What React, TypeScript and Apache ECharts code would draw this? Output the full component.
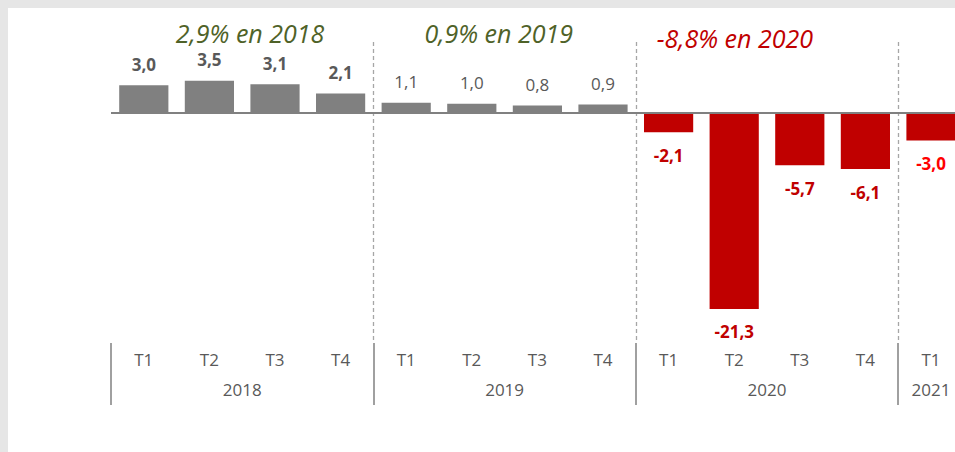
import React, { useEffect, useRef } from "react";
import * as echarts from "echarts";

const quarters = ["T1", "T2", "T3", "T4", "T1", "T2", "T3", "T4", "T1", "T2", "T3", "T4", "T1"];
const quarterYear = ["2018", "2018", "2018", "2018", "2019", "2019", "2019", "2019", "2020", "2020", "2020", "2020", "2021"];
const growth = [3.0, 3.5, 3.1, 2.1, 1.1, 1.0, 0.8, 0.9, -2.1, -21.3, -5.7, -6.1, -3.0];

const years = ["2018", "2019", "2020", "2021"];
const yearStartIndex = [0, 4, 8, 12];
const yearCenterIndex = [2, 6, 10, 12.5];

const annualTexts = ["2,9% en 2018", "0,9% en 2019", "-8,8% en 2020"];
const annualIsNegative = [false, false, true];
const annualAnchorX = [2.12, 5.91, 9.51];
const annualAnchorY = [8.65, 8.65, 8.1];

const FONT = "'Open Sans', 'DejaVu Sans', sans-serif";
const fmt = (v: number) => v.toFixed(1).replace(".", ",");

export default function App() {
  const ref = useRef<HTMLDivElement>(null);

  useEffect(() => {
    if (!ref.current) return;
    const chart = echarts.init(ref.current, null, { renderer: "svg" });

    const barData = growth.map((v, i) => {
      const neg = v < 0;
      const year = quarterYear[i];
      return {
        value: v,
        itemStyle: { color: neg ? "#c00000" : "#808080" },
        label: {
          show: true,
          position: neg ? "bottom" : "top",
          distance: neg ? 14 : 12,
          color: neg ? (year === "2021" ? "#ff0000" : "#c00000") : "#595959",
          fontWeight: year === "2019" ? "normal" : "bold",
          fontSize: 17,
          lineHeight: 18,
          fontFamily: FONT,
          formatter: () => fmt(v),
        },
      };
    });

    const annotData = annualTexts.map((t, i) => ({
      value: [annualAnchorX[i], annualAnchorY[i]],
      label: {
        show: true,
        position: "inside",
        formatter: t,
        color: annualIsNegative[i] ? "#c00000" : "#4f6228",
        opacity: 1,
        fontSize: 25,
        lineHeight: 24,
        fontStyle: "italic",
        fontFamily: FONT,
      },
    }));

    chart.setOption({
      animation: false,
      grid: { left: 111, top: 42, width: 13 * 65.6, bottom: 109, containLabel: false },
      xAxis: [
        {
          type: "category",
          data: quarters,
          position: "bottom",
          boundaryGap: true,
          axisLine: { show: false },
          axisTick: { show: false },
          axisLabel: {
            interval: 0,
            margin: 8,
            color: "#595959",
            fontSize: 17,
            fontFamily: FONT,
          },
          splitLine: {
            show: true,
            interval: (index: number) => index > 0 && yearStartIndex.includes(index),
            lineStyle: { color: "#a6a6a6", type: [4, 3], width: 1.3 },
          },
        },
        {
          type: "value",
          min: 0,
          max: 13,
          position: "bottom",
          axisLine: { show: false },
          splitLine: { show: false },
          axisTick: {
            show: true,
            customValues: yearStartIndex,
            length: 62,
            inside: false,
            lineStyle: { color: "#808080", width: 1.5 },
          },
          axisLabel: {
            show: true,
            customValues: yearCenterIndex,
            margin: 38,
            color: "#595959",
            fontSize: 17,
            fontFamily: FONT,
            formatter: (val: number) => {
              const k = yearCenterIndex.indexOf(val);
              return k >= 0 ? years[k] : "";
            },
          },
        },
      ],
      yAxis: {
        type: "value",
        min: -25,
        max: 7.7,
        show: false,
        splitLine: { show: false },
      },
      series: [
        {
          type: "bar",
          xAxisIndex: 0,
          yAxisIndex: 0,
          barWidth: "75%",
          data: barData,
          markLine: {
            silent: true,
            symbol: "none",
            label: { show: false },
            lineStyle: { color: "#808080", width: 2, type: "solid" },
            data: [{ yAxis: 0 }],
          },
        },
        {
          type: "scatter",
          xAxisIndex: 1,
          yAxisIndex: 0,
          symbolSize: 1,
          clip: false,
          silent: true,
          itemStyle: { color: "rgba(255,255,255,0)", opacity: 1 },
          data: annotData,
        },
      ],
    });

    return () => chart.dispose();
  }, []);

  return (
    <div
      style={{
        position: "fixed",
        left: 0,
        top: 0,
        width: 955,
        height: 452,
        background: "#e6e6e6",
        overflow: "hidden",
      }}
    >
      <div style={{ position: "absolute", left: 8, top: 8, right: 0, bottom: 0, background: "#ffffff" }} />
      <div ref={ref} style={{ position: "absolute", left: 0, top: 0, width: 1000, height: 452 }} />
    </div>
  );
}
